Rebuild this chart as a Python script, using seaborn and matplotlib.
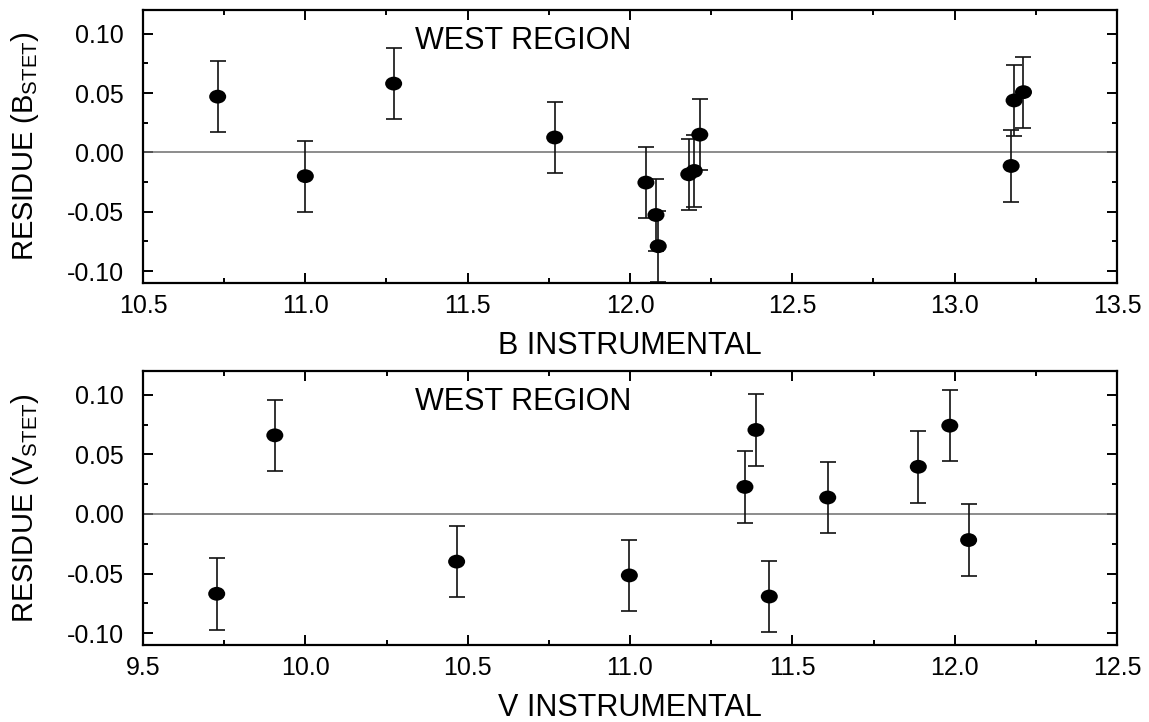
import numpy as np
import pandas as pd
import seaborn as sns
import matplotlib
matplotlib.use("Agg")
import matplotlib.pyplot as plt
from matplotlib.path import Path
from matplotlib.transforms import Affine2D
from matplotlib.ticker import MultipleLocator, FormatStrFormatter

# ---- data ----
b_inst = [10.73, 11.00, 11.272, 11.768, 12.049, 12.080, 12.087, 12.181, 12.198, 12.215,
          13.174, 13.183, 13.212]
b_resid = [0.047, -0.020, 0.058, 0.0126, -0.0254, -0.0527, -0.079, -0.0184, -0.0156, 0.015,
           -0.0114, 0.0438, 0.0508]
b_err = [0.03] * len(b_inst)

v_inst = [9.727, 9.906, 10.466, 10.998, 11.354, 11.388, 11.429, 11.609, 11.888, 11.985, 12.043]
v_resid = [-0.067, 0.066, -0.040, -0.0516, 0.0227, 0.0705, -0.0693, 0.0138, 0.0396, 0.0741, -0.0219]
v_err = [0.03] * len(v_inst)

panel_text = "WEST REGION"
b_xlabel = "B INSTRUMENTAL"
v_xlabel = "V INSTRUMENTAL"
b_ylabel = r"RESIDUE (B$_{\mathregular{STET}}$)"
v_ylabel = r"RESIDUE (V$_{\mathregular{STET}}$)"

sns.set_style("white")
plt.rcParams["font.family"] = ["Liberation Sans", "DejaVu Sans"]
plt.rcParams["mathtext.default"] = "regular"
plt.rcParams["text.color"] = "black"
plt.rcParams["axes.labelcolor"] = "black"
plt.rcParams["xtick.color"] = "black"
plt.rcParams["ytick.color"] = "black"

fig = plt.figure(figsize=(11.49, 7.22), dpi=100)
ax1 = fig.add_axes([143/1149, 1-283/722, (1117-143)/1149, (283-10)/722])
ax2 = fig.add_axes([143/1149, 1-645/722, (1117-143)/1149, (645-371)/722])

ellipse = Path.unit_circle().transformed(Affine2D().scale(1.23, 1.0))

def draw(ax, x, y, e, xlim, xlabel, ylabel):
    df = pd.DataFrame({"x": x, "y": y, "e": e})
    ax.axhline(0, color="#6e6e6e", lw=1.1, zorder=1)
    ax.errorbar(df["x"], df["y"], yerr=df["e"], fmt="none", ecolor="#111111",
                elinewidth=1.2, capsize=5.5, capthick=1.2, zorder=2)
    sns.scatterplot(data=df, x="x", y="y", ax=ax, marker=ellipse, s=150,
                    color="black", edgecolor="none", linewidth=0, zorder=3, legend=False)
    ax.set_xlim(*xlim)
    ax.set_ylim(-0.11, 0.12)
    ax.xaxis.set_major_locator(MultipleLocator(0.5))
    ax.xaxis.set_minor_locator(MultipleLocator(0.25))
    ax.yaxis.set_major_locator(MultipleLocator(0.05))
    ax.yaxis.set_minor_locator(MultipleLocator(0.025))
    ax.xaxis.set_major_formatter(FormatStrFormatter("%.1f"))
    ax.yaxis.set_major_formatter(FormatStrFormatter("%.2f"))
    ax.tick_params(which="both", direction="in", top=True, right=True,
                   bottom=True, left=True, width=1.4, labelsize=18, color="black",
                   labelcolor="black")
    ax.tick_params(axis="x", which="major", length=7, pad=8)
    ax.tick_params(axis="y", which="major", length=7, pad=14)
    ax.tick_params(which="minor", length=3.5)
    for s in ax.spines.values():
        s.set_visible(True)
        s.set_linewidth(1.6)
        s.set_color("black")
    ax.set_xlabel(xlabel, fontsize=22, labelpad=9)
    ax.set_ylabel(ylabel, fontsize=21, labelpad=18)
    ax.text(0.279, 0.856, panel_text, transform=ax.transAxes, fontsize=22,
            ha="left", va="baseline", color="black")

draw(ax1, b_inst, b_resid, b_err, (10.5, 13.5), b_xlabel, b_ylabel)
draw(ax2, v_inst, v_resid, v_err, (9.5, 12.5), v_xlabel, v_ylabel)

fig.savefig("out.png", dpi=100, facecolor="white")
